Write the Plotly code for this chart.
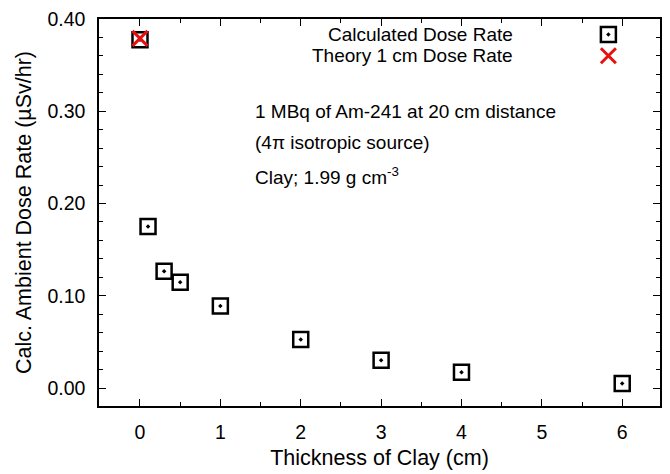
import plotly.graph_objects as go

thickness_cm = [0, 0.1, 0.3, 0.5, 1, 2, 3, 4, 6]
calc_dose = [0.3775, 0.175, 0.1265, 0.1147, 0.089, 0.0525, 0.030, 0.017, 0.005]
theory_x = [0]
theory_dose = [0.379]
legend_labels = ["Calculated Dose Rate", "Theory 1 cm Dose Rate"]
x_ticks = [0, 1, 2, 3, 4, 5, 6]
y_ticks = [0.0, 0.1, 0.2, 0.3, 0.4]

FONT = "Liberation Sans, Arial, sans-serif"

fig = go.Figure()
fig.add_trace(go.Scatter(
    x=thickness_cm, y=calc_dose, mode="markers", name=legend_labels[0],
    marker=dict(symbol="square-open-dot", size=15, color="black", line=dict(width=2.5, color="black")),
    showlegend=False, cliponaxis=False))
fig.add_trace(go.Scatter(
    x=theory_x, y=theory_dose, mode="markers", name=legend_labels[1],
    marker=dict(symbol="x-thin-open", size=15, color="#e8100f", line=dict(width=3, color="#e8100f")),
    showlegend=False, cliponaxis=False))

# legend samples drawn on an overlay axis with fixed 0-1 range
fig.add_trace(go.Scatter(
    x=[0.908], y=[0.96], mode="markers", xaxis="x2", yaxis="y2", showlegend=False,
    marker=dict(symbol="square-open-dot", size=15, color="black", line=dict(width=2.5, color="black")),
    cliponaxis=False))
fig.add_trace(go.Scatter(
    x=[0.908], y=[0.905], mode="markers", xaxis="x2", yaxis="y2", showlegend=False,
    marker=dict(symbol="x-thin-open", size=15, color="#e8100f", line=dict(width=3, color="#e8100f")),
    cliponaxis=False))

axis_common = dict(showline=True, linecolor="black", linewidth=1.5, mirror="ticks",
                   ticks="inside", ticklen=7, tickwidth=1.2, tickcolor="black",
                   showgrid=False, zeroline=False,
                   tickfont=dict(family=FONT, size=19.5, color="black"))

fig.update_layout(
    width=670, height=474,
    margin=dict(l=99, r=8, t=17, b=66),
    paper_bgcolor="white", plot_bgcolor="white",
    font=dict(family=FONT, size=19, color="black"),
    xaxis=dict(range=[-0.51, 6.47], tickvals=x_ticks, ticklabelstandoff=8,
               minor=dict(dtick=0.5, ticks="inside", ticklen=4, tickcolor="black"),
               title=dict(text="Thickness of Clay (cm)", font=dict(family=FONT, size=21.5), standoff=8),
               **axis_common),
    yaxis=dict(range=[-0.0195, 0.4], tickvals=y_ticks, tickformat=".2f", ticklabelstandoff=8,
               minor=dict(dtick=0.02, ticks="inside", ticklen=4, tickcolor="black"),
               title=dict(text="Calc. Ambient Dose Rate (µSv/hr)", font=dict(family=FONT, size=21.5), standoff=10),
               **axis_common),
    xaxis2=dict(range=[0, 1], overlaying="x", visible=False, fixedrange=True),
    yaxis2=dict(range=[0, 1], overlaying="y", visible=False, fixedrange=True),
)

ann = [
    dict(text=legend_labels[0], x=0.742, y=0.96, xanchor="right", size=19),
    dict(text=legend_labels[1], x=0.742, y=0.905, xanchor="right", size=19),
    dict(text="1 MBq of Am-241 at 20 cm distance", x=0.274, y=0.762, xanchor="left", size=19),
    dict(text="(4π isotropic source)", x=0.274, y=0.680, xanchor="left", size=19),
    dict(text="Clay; 1.99 g cm<sup>-3</sup>", x=0.274, y=0.595, xanchor="left", size=19),
]
for a in ann:
    size = a.pop("size")
    fig.add_annotation(xref="paper", yref="paper", showarrow=False, yanchor="middle",
                       font=dict(family=FONT, size=size, color="black"), **a)

fig.write_html("out.html")
